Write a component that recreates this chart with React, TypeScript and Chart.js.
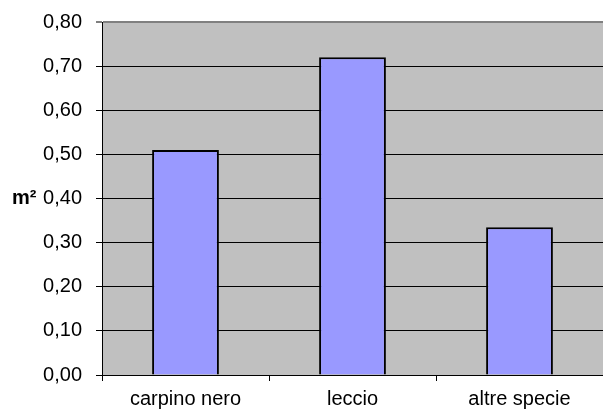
import React, { useEffect, useRef } from "react";
import { Chart, registerables } from "chart.js";

Chart.register(...registerables);

const categories = ["carpino nero", "leccio", "altre specie"];
const values = [0.51, 0.72, 0.335];
const yMin = 0;
const yMax = 0.8;
const yStep = 0.1;
const yTitle = "m²";

const FONT = "'Liberation Sans', Arial, sans-serif";

const plotBg = {
  id: "plotBg",
  beforeDraw(chart: any) {
    const { ctx, chartArea } = chart;
    ctx.save();
    ctx.fillStyle = "#c0c0c0";
    ctx.fillRect(chartArea.left, chartArea.top, chartArea.right - chartArea.left, chartArea.bottom - chartArea.top);
    ctx.restore();
  },
  afterDraw(chart: any) {
    const { ctx, chartArea } = chart;
    ctx.save();
    ctx.font = "bold 20px " + FONT;
    ctx.fillStyle = "#000";
    ctx.textAlign = "left";
    ctx.textBaseline = "middle";
    ctx.fillText(yTitle, 12, (chartArea.top + chartArea.bottom) / 2);
    ctx.restore();
  },
};

export default function App() {
  const ref = useRef<HTMLCanvasElement>(null);
  useEffect(() => {
    const chart = new Chart(ref.current!, {
      type: "bar",
      data: {
        labels: categories,
        datasets: [
          {
            data: values,
            backgroundColor: "#9999ff",
            borderColor: "#000000",
            borderWidth: 2,
            barPercentage: 0.4,
            categoryPercentage: 1,
          },
        ],
      },
      options: {
        animation: false,
        responsive: false,
        layout: { padding: { top: 22, right: 0, bottom: 0, left: 0 } },
        plugins: { legend: { display: false }, tooltip: { enabled: false } },
        scales: {
          x: {
            grid: {
              offset: true,
              drawOnChartArea: false,
              drawTicks: true,
              tickLength: 6,
              color: "#000",
            },
            border: { color: "#000", width: 1 },
            ticks: { color: "#000", font: { family: FONT, size: 20 }, padding: 6, maxRotation: 0 },
            afterFit: (s: any) => {
              s.height = 36;
            },
          },
          y: {
            min: yMin,
            max: yMax,
            grid: {
              color: (c: any) => (c.tick && Math.abs(c.tick.value - yMax) < 1e-9 ? "#808080" : "#000"),
              lineWidth: (c: any) => (c.tick && Math.abs(c.tick.value - yMax) < 1e-9 ? 2 : 1),
              tickLength: 6,
              tickColor: "#000",
              tickWidth: 1,
            },
            border: { color: "#000", width: 1 },
            ticks: {
              stepSize: yStep,
              color: "#000",
              font: { family: FONT, size: 20, lineHeight: 1 },
              padding: 14,
              callback: (v: any) => Number(v).toFixed(2).replace(".", ","),
            },
            afterFit: (s: any) => {
              s.width = 102;
              s.paddingTop = 0;
              s.paddingBottom = 0;
            },
          },
        },
      },
      plugins: [plotBg],
    });
    return () => chart.destroy();
  }, []);
  return (
    <div style={{ position: "absolute", left: 0, top: 0, width: 603, height: 411, background: "#fff" }}>
      <canvas ref={ref} width={603} height={411} style={{ display: "block" }} />
    </div>
  );
}
